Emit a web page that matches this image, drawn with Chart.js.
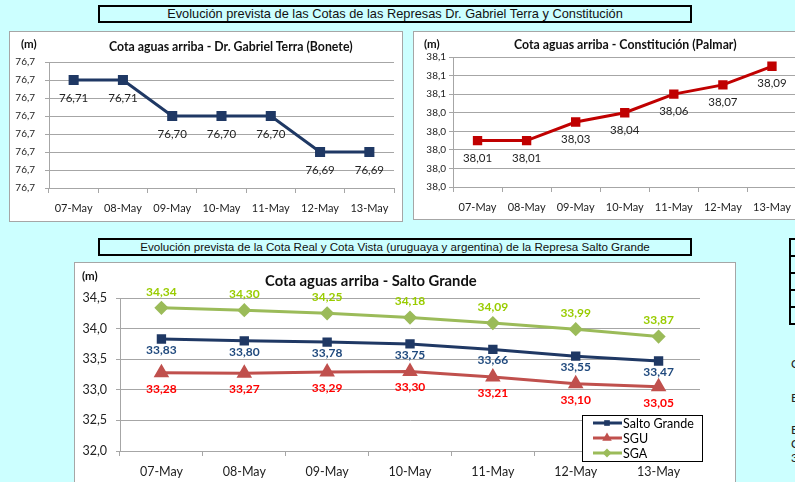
<!DOCTYPE html>
<html>
<head>
<meta charset="utf-8">
<script src="https://cdn.jsdelivr.net/npm/chart.js@4.4.1/dist/chart.umd.min.js"></script>
<style>
    html, body {
        margin: 0;
        padding: 0;
    }
    body {
        width: 795px;
        height: 482px;
        overflow: hidden;
        position: relative;
        background: #ccffff;
        font-family: 'Lato', sans-serif;
    }
    .banner {
        position: absolute;
        left: 98px;
        width: 590px;
        height: 14px;
        border: 2px solid #000;
        background: #ccffff;
        font-family: 'Liberation Sans', Arial, sans-serif;
        text-align: center;
        line-height: 14px;
        color: #111;
    }
    .box {
        position: absolute;
        background: #fff;
        border: 1px solid #a6a6a6;
    }
    .box canvas {
        position: absolute;
        left: 0;
        top: 0;
    }
    .txt {
        position: absolute;
        font-weight: bold;
        color: #111;
        white-space: nowrap;
        line-height: 1;
    }
    .side {
        position: absolute;
        left: 789px;
        top: 238px;
        width: 20px;
        border: 2px solid #000;
    }
    .side div {
        height: 15px;
        border-bottom: 2px solid #000;
    }
    .side div:last-child {
        border-bottom: none;
    }
    .frag {
        position: absolute;
        left: 791px;
        font-size: 12px;
        color: #222;
    }
</style>
</head>
<body>

<div class="banner" style="top:5px; font-size:12.8px;">Evolución prevista de las Cotas de las Represas Dr. Gabriel Terra y Constitución</div>

<div class="box" style="left:9px; top:31px; width:392px; height:189px;">
    <canvas id="chartBonete" width="392" height="189"></canvas>
    <div class="txt" style="left:11px; top:6px; font-size:11.5px;">(m)</div>
    <div class="txt" style="left:99px; top:9px; font-size:12.3px;">Cota aguas arriba - Dr. Gabriel Terra (Bonete)</div>
</div>

<div class="box" style="left:413px; top:31px; width:400px; height:187px;">
    <canvas id="chartPalmar" width="390" height="187"></canvas>
    <div class="txt" style="left:10px; top:6px; font-size:11.5px;">(m)</div>
    <div class="txt" style="left:100px; top:7px; font-size:12.3px;">Cota aguas arriba - Constitución (Palmar)</div>
</div>

<div class="banner" style="top:238px; font-size:11.6px;">Evolución prevista de la Cota Real y Cota Vista (uruguaya y argentina) de la Represa Salto Grande</div>

<div class="box" style="left:74px; top:262px; width:660px; height:240px;">
    <canvas id="chartSalto" width="660" height="230"></canvas>
    <div class="txt" style="left:7px; top:7px; font-size:11.5px;">(m)</div>
    <div class="txt" style="left:190px; top:10px; font-size:14.8px;">Cota aguas arriba - Salto Grande</div>
</div>

<div class="side"><div></div><div></div><div></div><div></div><div></div></div>
<div class="frag" style="top:356px;">C</div>
<div class="frag" style="top:390px;">E</div>
<div class="frag" style="top:422px;">E</div>
<div class="frag" style="top:436px;">C</div>
<div class="frag" style="top:450px;">3</div>

<script>
var dias = ['07-May', '08-May', '09-May', '10-May', '11-May', '12-May', '13-May'];

// cotas previstas (m)
var bonete = [76.71, 76.71, 76.70, 76.70, 76.70, 76.69, 76.69];
var palmar = [38.01, 38.01, 38.03, 38.04, 38.06, 38.07, 38.09];
var saltoGrande = [33.83, 33.80, 33.78, 33.75, 33.66, 33.55, 33.47];
var sgu = [33.28, 33.27, 33.29, 33.30, 33.21, 33.10, 33.05];
var sga = [34.34, 34.30, 34.25, 34.18, 34.09, 33.99, 33.87];

// marcas del eje y
var ticksBonete = [76.68, 76.685, 76.69, 76.695, 76.70, 76.705, 76.71, 76.715];
var ticksPalmar = [37.96, 37.98, 38.00, 38.02, 38.04, 38.06, 38.08, 38.10];
var ticksSalto = [32.0, 32.5, 33.0, 33.5, 34.0, 34.5];

var gridColor = '#a6a6a6';

function coma(v, d) {
    return v.toFixed(d).replace('.', ',');
}

// etiquetas de valor junto a cada punto
var valueLabels = {
    id: 'valueLabels',
    afterDatasetsDraw: function (chart) {
        var ctx = chart.ctx;
        chart.data.datasets.forEach(function (ds, i) {
            var meta = chart.getDatasetMeta(i);
            ctx.save();
            ctx.font = ds.labelFont;
            ctx.fillStyle = ds.labelColor;
            ctx.textAlign = 'center';
            ctx.textBaseline = 'middle';
            meta.data.forEach(function (pt, j) {
                ctx.fillText(coma(ds.data[j], 2), pt.x, pt.y + ds.labelOffset);
            });
            ctx.restore();
        });
    }
};

// leyenda con recuadro dentro del grafico
var boxLegend = {
    id: 'boxLegend',
    afterDraw: function (chart) {
        var ctx = chart.ctx;
        var a = chart.chartArea;
        var left = a.right - 118, top = a.bottom - 36;
        ctx.save();
        ctx.fillStyle = '#fff';
        ctx.fillRect(left, top, 121, 47);
        ctx.strokeStyle = '#000';
        ctx.lineWidth = 1;
        ctx.strokeRect(left + 0.5, top + 0.5, 120, 46);
        chart.data.datasets.forEach(function (ds, i) {
            var y = top + 8 + i * 15;
            ctx.strokeStyle = ds.borderColor;
            ctx.lineWidth = 3;
            ctx.beginPath();
            ctx.moveTo(left + 11, y);
            ctx.lineTo(left + 40, y);
            ctx.stroke();
            if (Chart.helpers && Chart.helpers.drawPoint) {
                ctx.fillStyle = ds.pointBackgroundColor;
                ctx.strokeStyle = ds.pointBorderColor;
                ctx.lineWidth = 1;
                Chart.helpers.drawPoint(ctx, {
                    pointStyle: ds.pointStyle,
                    radius: ds.pointRadius - 0.5,
                    rotation: 0
                }, left + 25, y);
            }
            ctx.fillStyle = '#000';
            ctx.font = '12.5px Lato';
            ctx.textBaseline = 'middle';
            ctx.fillText(ds.label, left + 41, y + 1);
        });
        ctx.restore();
    }
};

function fixWidth(w) {
    return function (scale) { scale.width = w; };
}
function fixHeight(h) {
    return function (scale) { scale.height = h; };
}
function setTicks(list) {
    return function (scale) {
        scale.ticks = list.map(function (v) { return { value: v }; });
    };
}

function opciones(cfg) {
    return {
        responsive: false,
        animation: false,
        layout: { padding: { top: cfg.top, right: cfg.right, left: 0, bottom: 0 } },
        plugins: { legend: { display: false }, tooltip: { enabled: false } },
        scales: {
            x: {
                offset: true,
                afterFit: fixHeight(cfg.xh),
                grid: { offset: true, drawOnChartArea: false, color: gridColor, tickLength: 5 },
                border: { color: gridColor },
                ticks: { color: '#222', padding: cfg.xpad, maxRotation: 0, font: { family: 'Lato', size: cfg.fs } }
            },
            y: {
                min: cfg.ticks[0],
                max: cfg.ticks[cfg.ticks.length - 1],
                afterFit: fixWidth(cfg.yw),
                afterBuildTicks: setTicks(cfg.ticks),
                grid: { color: gridColor, tickLength: 4 },
                border: { color: gridColor },
                ticks: {
                    color: '#222',
                    padding: cfg.ypad,
                    font: { family: 'Lato', size: cfg.yfs },
                    callback: function (v) { return coma(v, 1); }
                }
            }
        }
    };
}

new Chart(document.getElementById('chartBonete'), {
    type: 'line',
    data: {
        labels: dias,
        datasets: [{
            label: 'Bonete',
            data: bonete,
            borderColor: '#1f3864',
            borderWidth: 3,
            pointStyle: 'rect',
            pointRadius: 5,
            pointBackgroundColor: '#1f3864',
            pointBorderColor: '#1f3864',
            labelFont: '11.5px Lato',
            labelColor: '#222',
            labelOffset: 18
        }]
    },
    options: opciones({ top: 30, right: 5, xh: 33, yw: 39, xpad: 9, ypad: 10, fs: 11, yfs: 10, ticks: ticksBonete }),
    plugins: [valueLabels]
});

new Chart(document.getElementById('chartPalmar'), {
    type: 'line',
    data: {
        labels: dias,
        datasets: [{
            label: 'Palmar',
            data: palmar,
            borderColor: '#c00000',
            borderWidth: 3,
            pointStyle: 'rect',
            pointRadius: 4.5,
            pointBackgroundColor: '#c00000',
            pointBorderColor: '#c00000',
            labelFont: '11.5px Lato',
            labelColor: '#222',
            labelOffset: 17.5
        }]
    },
    options: opciones({ top: 25, right: 7, xh: 32, yw: 39, xpad: 9, ypad: 3, fs: 11, yfs: 10, ticks: ticksPalmar }),
    plugins: [valueLabels]
});

new Chart(document.getElementById('chartSalto'), {
    type: 'line',
    data: {
        labels: dias,
        datasets: [{
            label: 'Salto Grande',
            data: saltoGrande,
            borderColor: '#1f3864',
            borderWidth: 3,
            pointStyle: 'rect',
            pointRadius: 4.5,
            pointBackgroundColor: '#1f3864',
            pointBorderColor: '#1f3864',
            labelFont: 'bold 12px Lato',
            labelColor: '#1f497d',
            labelOffset: 11
        }, {
            label: 'SGU',
            data: sgu,
            borderColor: '#c0504d',
            borderWidth: 3,
            pointStyle: 'triangle',
            pointRadius: 6,
            pointBackgroundColor: '#c0504d',
            pointBorderColor: '#c0504d',
            labelFont: 'bold 12px Lato',
            labelColor: '#ff0000',
            labelOffset: 16
        }, {
            label: 'SGA',
            data: sga,
            borderColor: '#9bbb59',
            borderWidth: 3,
            pointStyle: 'rectRot',
            pointRadius: 5,
            pointBackgroundColor: '#9bbb59',
            pointBorderColor: '#9bbb59',
            labelFont: 'bold 12px Lato',
            labelColor: '#99cc00',
            labelOffset: -16
        }]
    },
    options: opciones({ top: 35, right: 35, xh: 42, yw: 45, xpad: 8, ypad: 9, fs: 12.5, yfs: 12.5, ticks: ticksSalto }),
    plugins: [valueLabels, boxLegend]
});
</script>
</body>
</html>
